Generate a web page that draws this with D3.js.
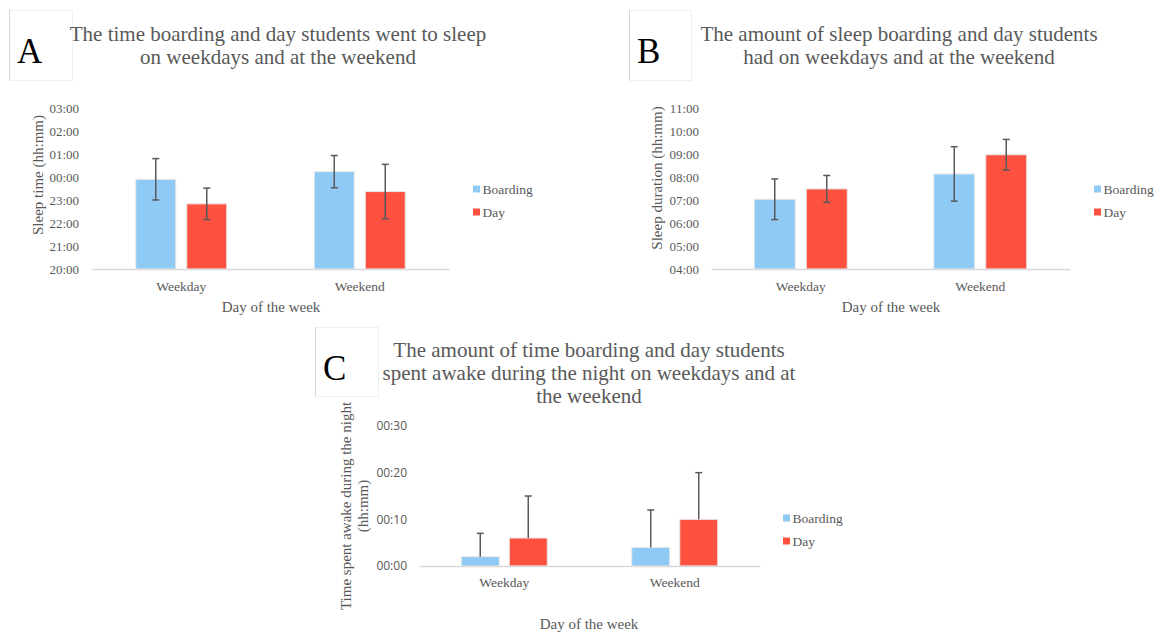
<!DOCTYPE html>
<html>
<head>
<meta charset="utf-8">
<script src="https://cdn.jsdelivr.net/npm/d3@7"></script>
<style>
  html, body { margin: 0; padding: 0; background: #ffffff; }
  svg { display: block; }
</style>
</head>
<body>
<svg id="chart" width="1168" height="632"></svg>
<script>
// ---- Data ----
const categories = ["Weekday", "Weekend"];
const groups = ["Boarding", "Day"];
const groupColors = ["#8fcaf5", "#fe5140"];

// A: time students went to sleep (hh:mm), standard deviation in minutes
const bedtimeBoarding = ["23:54", "00:14"];
const bedtimeDay = ["22:50", "23:22"];
const bedtimeBoardingSD = [54, 42];
const bedtimeDaySD = [41, 71];
const bedtimeTicks = ["20:00", "21:00", "22:00", "23:00", "00:00", "01:00", "02:00", "03:00"];

// B: sleep duration (hh:mm), standard deviation in minutes
const durationBoarding = ["07:02", "08:08"];
const durationDay = ["07:29", "08:58"];
const durationBoardingSD = [53, 71];
const durationDaySD = [35, 40];
const durationTicks = ["04:00", "05:00", "06:00", "07:00", "08:00", "09:00", "10:00", "11:00"];

// C: time spent awake during the night (minutes), standard deviation in minutes
const awakeBoarding = [2, 4];
const awakeDay = [6, 10];
const awakeBoardingSD = [5, 8];
const awakeDaySD = [9, 10];
const awakeTicks = ["00:00", "00:10", "00:20", "00:30"];

// ---- Helpers ----
// "hh:mm" -> hours; clock times after midnight continue past 24 so the night stays contiguous
function clockHours(s, wrap) {
  const [h, m] = s.split(":").map(Number);
  let v = h + m / 60;
  if (wrap && v < 12) v += 24;
  return v;
}
function durHours(s) {
  const [h, m] = s.split(":").map(Number);
  return h + m / 60;
}
function durMinutes(s) {
  const [h, m] = s.split(":").map(Number);
  return h * 60 + m;
}

const SERIF = "'Liberation Serif', 'Times New Roman', serif";
const SANS = "'Open Sans', 'Liberation Sans', sans-serif";
const TEXT_GREY = "#595959";

const svg = d3.select("#chart");

function drawPanel(p) {
  const g = svg.append("g");

  // Panel letter in its box
  g.append("rect")
    .attr("x", p.box[0] + 0.5).attr("y", p.box[1] + 0.5)
    .attr("width", p.box[2]).attr("height", p.box[3])
    .attr("fill", "#ffffff").attr("stroke", "#f0f0f0").attr("stroke-width", 1);
  g.append("line")
    .attr("x1", p.box[0] + 0.5).attr("x2", p.box[0] + 0.5)
    .attr("y1", p.box[1]).attr("y2", p.box[1] + p.box[3])
    .attr("stroke", "#d6d6d6");
  g.append("text")
    .attr("x", p.box[0] + 8).attr("y", p.box[1] + 53)
    .attr("font-family", SERIF).attr("font-size", 35).attr("fill", "#000")
    .text(p.letter);

  // Title
  const title = g.append("text")
    .attr("text-anchor", "middle")
    .attr("font-family", SERIF).attr("font-size", 21).attr("fill", TEXT_GREY);
  p.title.forEach((line, i) => {
    title.append("tspan").attr("x", p.titleX).attr("y", p.titleY + i * 23).text(line);
  });

  // Scales
  const x = d3.scaleBand().domain(categories).range([p.left, p.right]);
  const y = d3.scaleLinear().domain(p.domain).range([p.bottom, p.top]);
  const groupW = 2 * p.barW + p.gap;
  const xs = d3.scaleBand().domain(groups)
    .range([0, groupW]).paddingInner(p.gap / (p.barW + p.gap));
  const offset = (x.bandwidth() - groupW) / 2;

  // Y axis: labels only
  const yAxis = d3.axisLeft(y)
    .tickValues(p.tickValues)
    .tickFormat((d, i) => p.tickLabels[i])
    .tickSize(0).tickPadding(0);
  const ya = g.append("g").attr("transform", `translate(${p.tickX},0)`).call(yAxis);
  ya.select(".domain").remove();
  ya.selectAll("text")
    .attr("font-family", p.tickFont).attr("font-size", p.tickSize).attr("fill", TEXT_GREY);

  // Bars
  const rows = [];
  categories.forEach((c, ci) => {
    groups.forEach((s, si) => {
      rows.push({ cat: c, group: s, gi: si, value: p.values[si][ci], err: p.errors[si][ci] });
    });
  });

  g.append("g").selectAll("rect").data(rows).join("rect")
    .attr("x", d => x(d.cat) + offset + xs(d.group))
    .attr("width", xs.bandwidth())
    .attr("y", d => y(d.value))
    .attr("height", d => y(p.domain[0]) - y(d.value))
    .attr("fill", d => groupColors[d.gi])
    .attr("stroke", "#e9e9e9").attr("stroke-width", 1);

  // Error bars
  const eb = g.append("g").attr("stroke", "#595959").attr("stroke-width", 1.5).attr("fill", "none");
  rows.forEach(d => {
    const cx = x(d.cat) + offset + xs(d.group) + xs.bandwidth() / 2;
    const hi = y(d.value + d.err);
    const lo = p.twoSided ? y(d.value - d.err) : y(d.value);
    eb.append("line").attr("x1", cx).attr("x2", cx).attr("y1", hi).attr("y2", lo);
    eb.append("line").attr("x1", cx - 3.5).attr("x2", cx + 3.5).attr("y1", hi).attr("y2", hi);
    if (p.twoSided) {
      eb.append("line").attr("x1", cx - 3.5).attr("x2", cx + 3.5).attr("y1", lo).attr("y2", lo);
    }
  });

  // X axis line and category labels
  const xAxis = d3.axisBottom(x).tickSize(0).tickPadding(0);
  const xa = g.append("g").attr("transform", `translate(0,${p.bottom})`).call(xAxis);
  xa.select(".domain").attr("stroke", "#d9d9d9").attr("stroke-width", 1.5);
  xa.selectAll("text")
    .attr("dy", null).attr("y", p.catLabelDy)
    .attr("font-family", SERIF).attr("font-size", 13.5).attr("fill", TEXT_GREY);

  // Axis titles
  g.append("text")
    .attr("x", p.xTitleX).attr("y", p.xTitleY)
    .attr("text-anchor", "middle")
    .attr("font-family", SERIF).attr("font-size", 15).attr("fill", TEXT_GREY)
    .text("Day of the week");

  p.yTitle.forEach((line, i) => {
    g.append("text")
      .attr("transform", `translate(${p.yTitleX[i]},${p.yTitleY}) rotate(-90)`)
      .attr("text-anchor", "middle").attr("dy", "0.35em")
      .attr("font-family", SERIF).attr("font-size", 15).attr("fill", TEXT_GREY)
      .text(line);
  });

  // Legend
  const lg = g.append("g");
  groups.forEach((s, i) => {
    lg.append("rect")
      .attr("x", p.legendX).attr("y", p.legendY[i] - 3.5)
      .attr("width", 7).attr("height", 7).attr("fill", groupColors[i]);
    lg.append("text")
      .attr("x", p.legendX + 9.5).attr("y", p.legendY[i]).attr("dy", "0.35em")
      .attr("font-family", SERIF).attr("font-size", 13.5).attr("fill", TEXT_GREY)
      .text(s);
  });
}

// Panel A
drawPanel({
  letter: "A", box: [9, 10, 63, 70],
  title: ["The time boarding and day students went to sleep", "on weekdays and at the weekend"],
  titleX: 278, titleY: 41,
  left: 92, right: 449, top: 108, bottom: 269,
  domain: [20, 27],
  tickValues: bedtimeTicks.map(t => clockHours(t, true)),
  tickLabels: bedtimeTicks,
  tickX: 79, tickFont: SERIF, tickSize: 13,
  values: [bedtimeBoarding.map(t => clockHours(t, true)), bedtimeDay.map(t => clockHours(t, true))],
  errors: [bedtimeBoardingSD.map(m => m / 60), bedtimeDaySD.map(m => m / 60)],
  twoSided: true,
  barW: 40, gap: 11,
  catLabelDy: 22,
  xTitleX: 271, xTitleY: 312,
  yTitle: ["Sleep time (hh:mm)"], yTitleX: [38], yTitleY: 175,
  legendX: 473, legendY: [189, 212]
});

// Panel B
drawPanel({
  letter: "B", box: [629, 10, 62, 70],
  title: ["The amount of sleep boarding and day students", "had on weekdays and at the weekend"],
  titleX: 899, titleY: 41,
  left: 711, right: 1070, top: 108, bottom: 269,
  domain: [4, 11],
  tickValues: durationTicks.map(durHours),
  tickLabels: durationTicks,
  tickX: 699, tickFont: SERIF, tickSize: 13,
  values: [durationBoarding.map(durHours), durationDay.map(durHours)],
  errors: [durationBoardingSD.map(m => m / 60), durationDaySD.map(m => m / 60)],
  twoSided: true,
  barW: 41, gap: 11,
  catLabelDy: 22,
  xTitleX: 891, xTitleY: 312,
  yTitle: ["Sleep duration (hh:mm)"], yTitleX: [657], yTitleY: 178,
  legendX: 1094, legendY: [189, 212]
});

// Panel C
drawPanel({
  letter: "C", box: [315, 327, 63, 69],
  title: ["The amount of time boarding and day students", "spent awake during the night on weekdays and at", "the weekend"],
  titleX: 589, titleY: 357,
  left: 419, right: 760, top: 426, bottom: 566,
  domain: [0, 30],
  tickValues: awakeTicks.map(durMinutes),
  tickLabels: awakeTicks,
  tickX: 407, tickFont: SANS, tickSize: 12,
  values: [awakeBoarding, awakeDay],
  errors: [awakeBoardingSD, awakeDaySD],
  twoSided: false,
  barW: 38, gap: 10,
  catLabelDy: 21,
  xTitleX: 589, xTitleY: 629,
  yTitle: ["Time spent awake during the night", "(hh:mm)"], yTitleX: [346, 363], yTitleY: 506,
  legendX: 783, legendY: [518, 541]
});
</script>
</body>
</html>
